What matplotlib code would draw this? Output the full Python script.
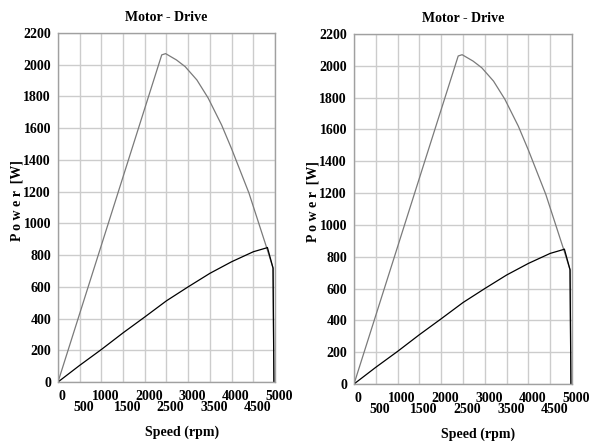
import matplotlib
matplotlib.use("Agg")
import matplotlib.pyplot as plt
import matplotlib.transforms as mtransforms

# upper (grey) curve: speed [rpm], power [W]
upper_speed = [0, 2390, 2480, 2730, 2930, 3200, 3460, 3770, 4000, 4400, 4810, 4955, 4975]
upper_power = [0, 2062, 2070, 2030, 1988, 1904, 1790, 1620, 1470, 1191, 845, 718, 0]

# lower (black) curve
lower_speed = [0, 500, 1000, 1500, 2000, 2500, 3000, 3500, 4000, 4500, 4800, 4825, 4955, 4975]
lower_power = [0, 105, 205, 310, 410, 512, 600, 685, 758, 821, 845, 848, 718, 0]

even_ticks = [0, 1000, 2000, 3000, 4000, 5000]
odd_ticks = [500, 1500, 2500, 3500, 4500]
y_ticks = list(range(0, 2201, 200))

title = "Motor - Drive"
xlabel = "Speed (rpm)"
ylabel = "P o w e r  [W]"

plt.rcParams['font.family'] = ['Liberation Serif', 'DejaVu Serif']
plt.rcParams['font.weight'] = 'bold'

fig = plt.figure(figsize=(5.9, 4.43), dpi=100)
positions = [[0.0983, 0.1377, 0.3678, 0.7878], [0.600, 0.1332, 0.3695, 0.7900]]

for pos in positions:
    ax = fig.add_axes(pos)
    ax.plot(upper_speed, upper_power, color="#7a7a7a", lw=0.9)
    ax.plot(lower_speed, lower_power, color="black", lw=0.9)
    ax.set_xlim(0, 5000)
    ax.set_ylim(0, 2200)

    ax.set_xticks(even_ticks)
    ax.set_xticks(odd_ticks, minor=True)
    ax.set_xticklabels([str(t) for t in even_ticks], fontsize=10, fontweight='bold')
    ax.set_xticklabels([str(t) for t in odd_ticks], minor=True, fontsize=10, fontweight='bold')
    ax.set_yticks(y_ticks)
    ax.set_yticklabels([str(t) for t in y_ticks], fontsize=10, fontweight='bold')
    ax.tick_params(axis='x', which='major', length=0, pad=6)
    ax.tick_params(axis='x', which='minor', length=0, pad=14)
    ax.tick_params(axis='y', length=0, pad=5)

    # shift x tick labels slightly right like the original
    offset = mtransforms.ScaledTranslation(3 / 72, 0, fig.dpi_scale_trans)
    for lab in ax.get_xticklabels(which='both'):
        lab.set_transform(lab.get_transform() + offset)

    ax.grid(True, which='both', axis='x', color="#cccccc", lw=1)
    ax.grid(True, which='major', axis='y', color="#cccccc", lw=1)
    ax.set_axisbelow(True)
    for sp in ax.spines.values():
        sp.set_color("#a0a0a0")
        sp.set_linewidth(1)

    ax.set_title(title, fontsize=10, fontweight='bold', pad=9)
    ax.text(0.57, -0.145, xlabel, transform=ax.transAxes, ha='center', va='center',
            fontsize=10, fontweight='bold')
    ax.text(-0.19, 0.52, ylabel, transform=ax.transAxes, ha='center', va='center',
            rotation=90, fontsize=10, fontweight='bold')

fig.savefig("out.png", dpi=100)
